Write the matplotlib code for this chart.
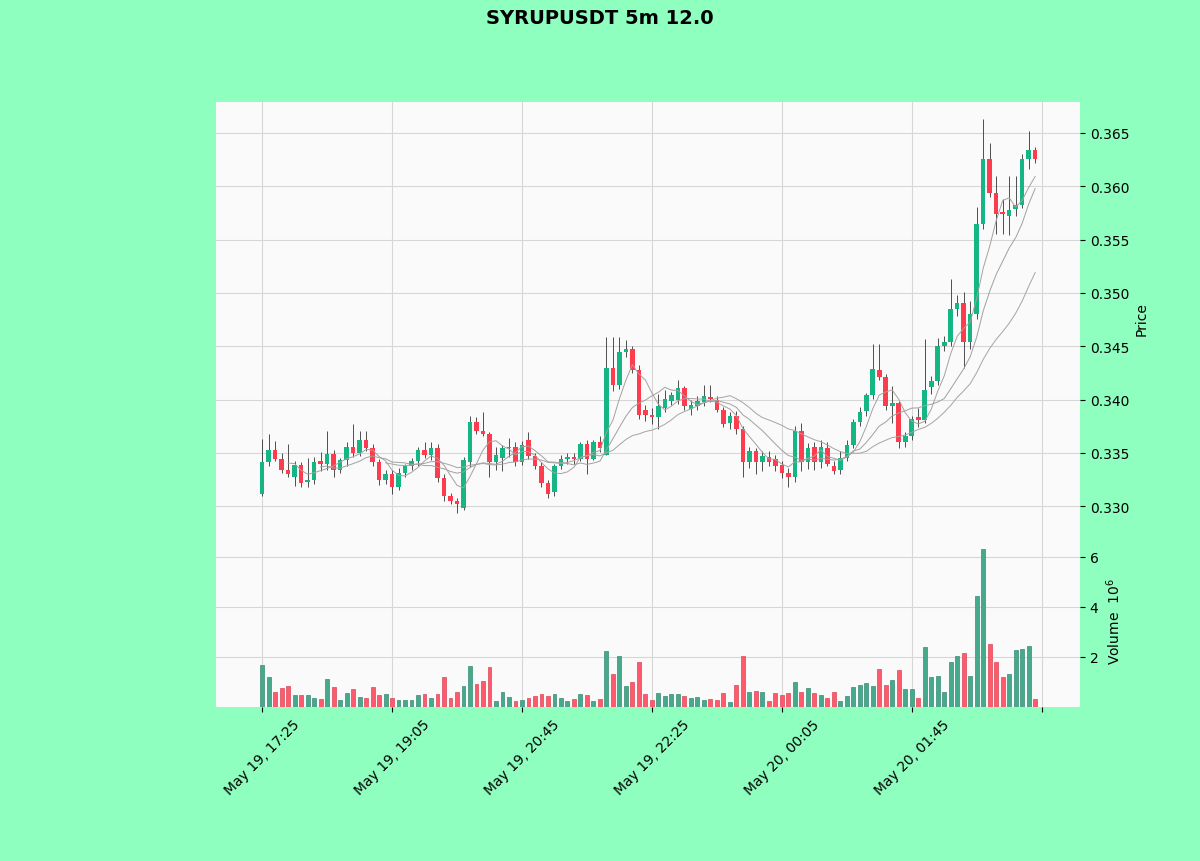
import numpy as np
import pandas as pd
import matplotlib
matplotlib.use("Agg")
import matplotlib.pyplot as plt
from matplotlib.ticker import FixedLocator, FuncFormatter

title = "SYRUPUSDT 5m 12.0"
start_time = "2025-05-19 17:25"
n_candles = 120

opens = [0.3311, 0.3341, 0.3353, 0.3344, 0.3334, 0.3327, 0.3339, 0.3323, 0.3325, 0.3342,
         0.3340, 0.3349, 0.3334, 0.3343, 0.3356, 0.3350, 0.3362, 0.3355, 0.3341, 0.3325,
         0.3330, 0.3318, 0.3331, 0.3338, 0.3342, 0.3353, 0.3348, 0.3355, 0.3326, 0.3310,
         0.3305, 0.3298, 0.3341, 0.3379, 0.3371, 0.3368, 0.3341, 0.3345, 0.3355, 0.3356,
         0.3341, 0.3362, 0.3347, 0.3338, 0.3322, 0.3313, 0.3338, 0.3344, 0.3346, 0.3344,
         0.3358, 0.3344, 0.3360, 0.3348, 0.3430, 0.3414, 0.3445, 0.3447, 0.3428, 0.3390,
         0.3386, 0.3384, 0.3392, 0.3399, 0.3400, 0.3411, 0.3391, 0.3394, 0.3398, 0.3402,
         0.3400, 0.3390, 0.3378, 0.3385, 0.3372, 0.3341, 0.3352, 0.3341, 0.3346, 0.3344,
         0.3339, 0.3331, 0.3327, 0.3371, 0.3341, 0.3356, 0.3341, 0.3355, 0.3338, 0.3334,
         0.3345, 0.3357, 0.3379, 0.3389, 0.3404, 0.3428, 0.3421, 0.3394, 0.3397, 0.3360,
         0.3366, 0.3384, 0.3381, 0.3412, 0.3417, 0.3450, 0.3454, 0.3485, 0.3491, 0.3454,
         0.3480, 0.3565, 0.3626, 0.3594, 0.3576, 0.3572, 0.3579, 0.3582, 0.3626, 0.3634]
highs = [0.3363, 0.3368, 0.3361, 0.3350, 0.3358, 0.3342, 0.3341, 0.3345, 0.3346, 0.3351,
         0.3371, 0.3353, 0.3345, 0.3360, 0.3377, 0.3371, 0.3371, 0.3358, 0.3344, 0.3334,
         0.3334, 0.3336, 0.3340, 0.3345, 0.3356, 0.3360, 0.3360, 0.3358, 0.3330, 0.3312,
         0.3308, 0.3346, 0.3385, 0.3384, 0.3388, 0.3370, 0.3356, 0.3357, 0.3364, 0.3360,
         0.3361, 0.3370, 0.3350, 0.3341, 0.3325, 0.3340, 0.3348, 0.3350, 0.3350, 0.3360,
         0.3362, 0.3362, 0.3366, 0.3459, 0.3459, 0.3459, 0.3456, 0.3450, 0.3432, 0.3395,
         0.3392, 0.3405, 0.3409, 0.3407, 0.3418, 0.3413, 0.3400, 0.3403, 0.3414, 0.3414,
         0.3403, 0.3393, 0.3388, 0.3389, 0.3375, 0.3356, 0.3355, 0.3352, 0.3352, 0.3348,
         0.3342, 0.3336, 0.3375, 0.3378, 0.3359, 0.3360, 0.3362, 0.3360, 0.3342, 0.3352,
         0.3362, 0.3382, 0.3393, 0.3406, 0.3452, 0.3452, 0.3424, 0.3413, 0.3399, 0.3370,
         0.3385, 0.3392, 0.3457, 0.3422, 0.3458, 0.3460, 0.3513, 0.3498, 0.3501, 0.3492,
         0.3581, 0.3663, 0.3641, 0.3610, 0.3588, 0.3610, 0.3610, 0.3630, 0.3652, 0.3637]
lows = [0.3310, 0.3338, 0.3342, 0.3331, 0.3327, 0.3319, 0.3318, 0.3318, 0.3321, 0.3333,
        0.3334, 0.3327, 0.3331, 0.3338, 0.3346, 0.3347, 0.3352, 0.3338, 0.3320, 0.3321,
        0.3311, 0.3315, 0.3327, 0.3334, 0.3338, 0.3345, 0.3343, 0.3323, 0.3305, 0.3302,
        0.3294, 0.3296, 0.3337, 0.3368, 0.3366, 0.3327, 0.3334, 0.3333, 0.3346, 0.3338,
        0.3339, 0.3344, 0.3335, 0.3318, 0.3308, 0.3310, 0.3335, 0.3340, 0.3340, 0.3342,
        0.3330, 0.3343, 0.3351, 0.3348, 0.3408, 0.3410, 0.3440, 0.3425, 0.3382, 0.3380,
        0.3377, 0.3372, 0.3388, 0.3395, 0.3396, 0.3390, 0.3386, 0.3390, 0.3394, 0.3398,
        0.3388, 0.3374, 0.3372, 0.3368, 0.3327, 0.3336, 0.3330, 0.3333, 0.3338, 0.3333,
        0.3326, 0.3318, 0.3323, 0.3333, 0.3335, 0.3334, 0.3336, 0.3338, 0.3330, 0.3330,
        0.3342, 0.3355, 0.3375, 0.3385, 0.3401, 0.3418, 0.3390, 0.3378, 0.3355, 0.3356,
        0.3362, 0.3374, 0.3378, 0.3405, 0.3414, 0.3446, 0.3450, 0.3478, 0.3430, 0.3447,
        0.3476, 0.3560, 0.3590, 0.3555, 0.3555, 0.3554, 0.3572, 0.3580, 0.3616, 0.3622]
closes = [0.3341, 0.3353, 0.3344, 0.3334, 0.3330, 0.3339, 0.3322, 0.3325, 0.3341, 0.3340,
          0.3349, 0.3334, 0.3343, 0.3356, 0.3350, 0.3362, 0.3355, 0.3341, 0.3325, 0.3330,
          0.3318, 0.3331, 0.3338, 0.3342, 0.3353, 0.3348, 0.3355, 0.3326, 0.3310, 0.3305,
          0.3302, 0.3343, 0.3379, 0.3371, 0.3368, 0.3341, 0.3348, 0.3355, 0.3356, 0.3341,
          0.3357, 0.3347, 0.3338, 0.3322, 0.3311, 0.3338, 0.3344, 0.3346, 0.3344, 0.3358,
          0.3344, 0.3360, 0.3355, 0.3430, 0.3414, 0.3445, 0.3447, 0.3428, 0.3386, 0.3386,
          0.3384, 0.3394, 0.3401, 0.3404, 0.3411, 0.3394, 0.3395, 0.3399, 0.3403, 0.3401,
          0.3390, 0.3377, 0.3385, 0.3372, 0.3341, 0.3352, 0.3341, 0.3347, 0.3341, 0.3338,
          0.3331, 0.3327, 0.3371, 0.3341, 0.3355, 0.3341, 0.3356, 0.3340, 0.3333, 0.3345,
          0.3357, 0.3379, 0.3388, 0.3404, 0.3429, 0.3421, 0.3394, 0.3397, 0.3360, 0.3366,
          0.3382, 0.3381, 0.3409, 0.3417, 0.3450, 0.3454, 0.3485, 0.3491, 0.3454, 0.3480,
          0.3565, 0.3626, 0.3594, 0.3574, 0.3574, 0.3578, 0.3582, 0.3626, 0.3634, 0.3626]
volumes_m = [1.68, 1.19, 0.59, 0.75, 0.85, 0.48, 0.48, 0.48, 0.35, 0.32,
             1.12, 0.79, 0.29, 0.56, 0.72, 0.39, 0.35, 0.79, 0.48, 0.52,
             0.35, 0.29, 0.28, 0.28, 0.48, 0.52, 0.35, 0.52, 1.19, 0.35,
             0.59, 0.83, 1.63, 0.92, 1.05, 1.59, 0.25, 0.61, 0.39, 0.25,
             0.29, 0.35, 0.43, 0.52, 0.45, 0.52, 0.35, 0.25, 0.32, 0.52,
             0.48, 0.25, 0.32, 2.25, 1.32, 2.03, 0.83, 1.01, 1.81, 0.52,
             0.29, 0.56, 0.45, 0.52, 0.52, 0.45, 0.35, 0.39, 0.29, 0.32,
             0.29, 0.56, 0.21, 0.88, 2.03, 0.59, 0.63, 0.59, 0.25, 0.56,
             0.48, 0.56, 0.99, 0.61, 0.75, 0.55, 0.48, 0.35, 0.61, 0.25,
             0.45, 0.81, 0.89, 0.96, 0.83, 1.52, 0.88, 1.09, 1.49, 0.72,
             0.72, 0.35, 2.39, 1.19, 1.23, 0.59, 1.81, 2.03, 2.16, 1.25,
             4.43, 6.32, 2.52, 1.79, 1.19, 1.32, 2.29, 2.32, 2.43, 0.32]
mav_periods = [5, 10, 20]
price_ticks = [0.330, 0.335, 0.340, 0.345, 0.350, 0.355, 0.360, 0.365]
volume_ticks = [2, 4, 6]

# styles
fig_bg = "#8fffc0"
ax_bg = "#fafafa"
up_col = "#16b584"
down_col = "#ff3b4e"
vol_up = "#45aa8c"
vol_down = "#ff5a6b"
mav_cols = ["#a8a0a0", "#a0a0a0", "#a4a4a4"]

dates = pd.date_range(start_time, periods=n_candles, freq="5min")
o = np.array(opens); h = np.array(highs); l = np.array(lows); c = np.array(closes)
v = np.array(volumes_m)
x = np.arange(len(c))
up = c >= o

fig = plt.figure(figsize=(12, 8.62), dpi=100, facecolor=fig_bg)
axp = fig.add_axes([0.18, 0.3794, 0.72, 0.5011])
axv = fig.add_axes([0.18, 0.1787, 0.72, 0.2007], sharex=axp)

for ax in (axp, axv):
    ax.set_facecolor(ax_bg)
    for s in ax.spines.values():
        s.set_visible(False)
    ax.grid(True, color="#d6d6d6", linewidth=0.8)
    ax.set_axisbelow(True)
    ax.yaxis.tick_right()
    ax.yaxis.set_label_position("right")

# wicks
axp.vlines(x, l, h, colors="#333333", linewidth=0.6, zorder=2)
# bodies
body_bottom = np.minimum(o, c)
body_h = np.maximum(np.abs(c - o), 0.00008)
axp.bar(x, body_h, bottom=body_bottom, width=0.7,
        color=np.where(up, up_col, down_col), edgecolor="none", zorder=3)

# moving averages
cs = pd.Series(c)
for p, col in zip(mav_periods, mav_cols):
    axp.plot(x, cs.rolling(p).mean(), color=col, linewidth=0.7, zorder=4)

axp.set_ylim(0.3274, 0.3679)
axp.yaxis.set_major_locator(FixedLocator(price_ticks))
axp.yaxis.set_major_formatter(FuncFormatter(lambda val, pos: f"{val:.3f}"))
axp.set_ylabel("Price", fontsize=10)
plt.setp(axp.get_xticklabels(), visible=False)
axp.tick_params(axis="x", length=0)

# volume
axv.bar(x, v, width=0.6, color=np.where(up, vol_up, vol_down),
        edgecolor=np.where(up, "#3a8c74", "#d9485a"), linewidth=0.5, zorder=3)
axv.set_ylim(0, 6.92)
axv.yaxis.set_major_locator(FixedLocator(volume_ticks))
axv.set_ylabel("Volume  $10^{6}$", fontsize=10)

axp.set_xlim(-7.1, 125.9)
xt = list(range(0, n_candles + 1, 20))
axv.xaxis.set_major_locator(FixedLocator(xt))
def fmt_x(val, pos):
    i = int(round(val))
    if 0 <= i < len(dates):
        return dates[i].strftime("%b %d, %H:%M")
    return ""
axv.xaxis.set_major_formatter(FuncFormatter(fmt_x))
for lab in axv.get_xticklabels():
    lab.set_rotation(45)
    lab.set_ha("center")

fig.suptitle(title, fontsize=14, fontweight="bold", y=0.99)
fig.savefig("out.png", dpi=100, facecolor=fig_bg)
